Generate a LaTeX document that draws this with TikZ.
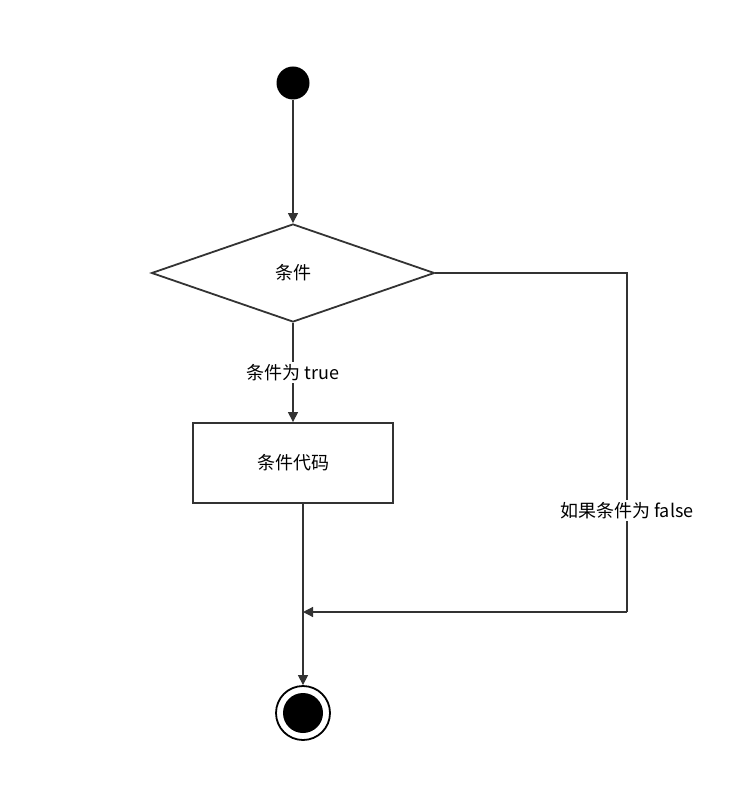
\documentclass[tikz,border=0pt]{standalone}
\usepackage{fontspec}
\setmainfont{Noto Sans CJK SC}
\usetikzlibrary{shapes.geometric,arrows.meta}

\tikzset{
  flow/.style={draw=black!80, line width=1.2pt},
  arr/.style={flow, -{Triangle[length=10pt,width=10pt]}},
  lbl/.style={fill=white, inner sep=2pt, font=\fontsize{18}{20}\selectfont}
}

\begin{document}
\begin{tikzpicture}[x=1pt,y=-1pt]
\useasboundingbox (0,0) rectangle (738,794);
% nodes
\node[circle, fill=black, minimum size=33pt, inner sep=0pt] (start) at (293,83) {};
\node[diamond, flow, line width=1.8pt, minimum width=283pt, minimum height=98pt, inner sep=0pt, aspect=2.9,
  font=\fontsize{18}{20}\selectfont] (cond) at (293,273) {条件};
\node[rectangle, flow, line width=1.8pt, minimum width=200pt, minimum height=80pt,
  font=\fontsize{18}{20}\selectfont] (code) at (293,463) {条件代码};
\node[circle, draw=black, line width=1.8pt, minimum size=54pt, inner sep=0pt] (stop) at (303,713) {};
\node[circle, fill=black, minimum size=40pt, inner sep=0pt] at (stop) {};
\coordinate (c1) at (627,273);
\coordinate (c2) at (627,612);
\coordinate (merge) at (303,612);
% connectors
\draw[arr] (start) -- (cond.north);
\draw[arr] (cond.south) -- node[lbl] {条件为 true} (code.north);
\draw[arr] (code.south -| stop) -- (stop.north);
\draw[flow] (cond.east) -- (c1) -- node[lbl, pos=0.7] {如果条件为 false} (c2);
\draw[arr] (c2) -- (merge);
\end{tikzpicture}
\end{document}
